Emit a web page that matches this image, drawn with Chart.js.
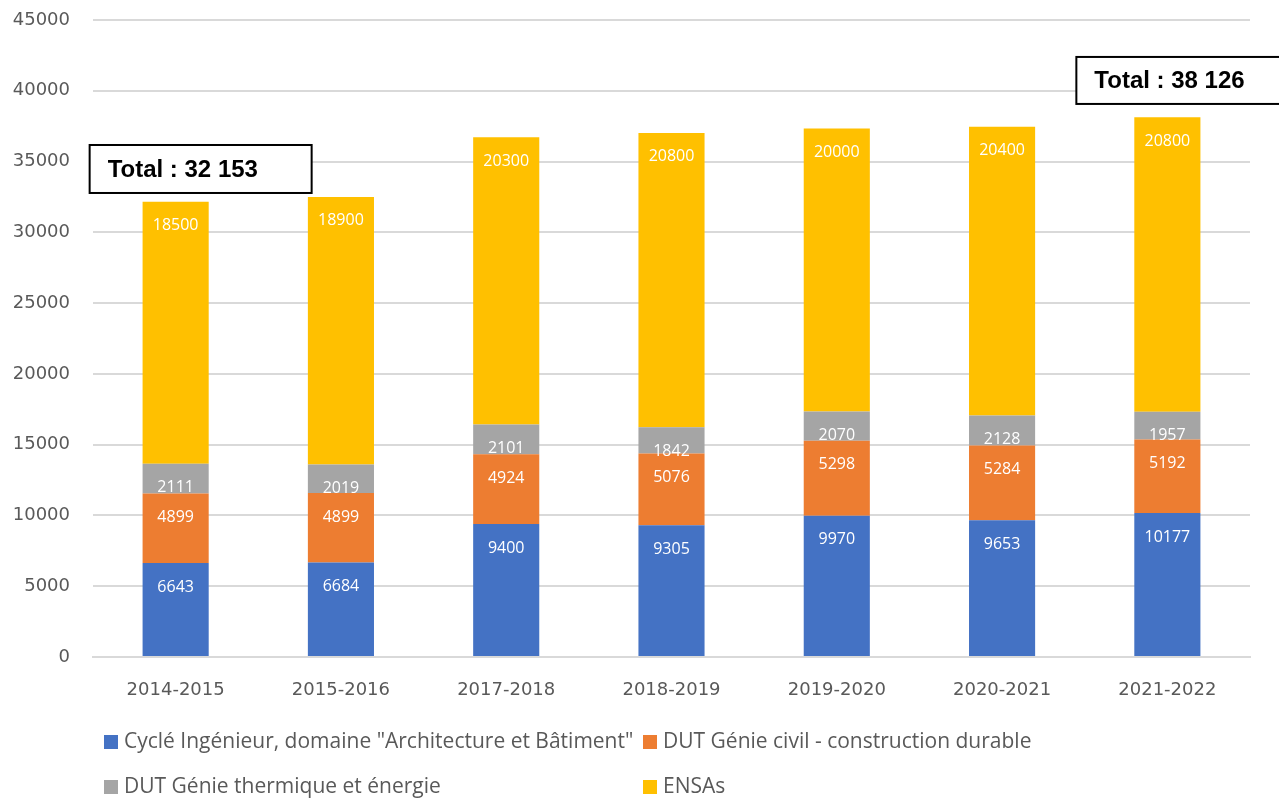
<!DOCTYPE html>
<html>
<head>
<meta charset="utf-8">
<script src="https://cdn.jsdelivr.net/npm/chart.js@4.4.0/dist/chart.umd.min.js"></script>
<style>
  html, body { margin: 0; padding: 0; background: #fff; }
  #wrap { width: 1279px; height: 798px; position: relative; }
</style>
</head>
<body>
<div id="wrap"><canvas id="graphique"></canvas></div>
<script>
const annees = ["2014-2015", "2015-2016", "2017-2018", "2018-2019", "2019-2020", "2020-2021", "2021-2022"];
const cycleIngenieur = [6643, 6684, 9400, 9305, 9970, 9653, 10177];
const dutGenieCivil = [4899, 4899, 4924, 5076, 5298, 5284, 5192];
const dutThermique = [2111, 2019, 2101, 1842, 2070, 2128, 1957];
const ensas = [18500, 18900, 20300, 20800, 20000, 20400, 20800];
const totaux = ["Total : 32 153", "Total : 38 126"];

const couleurs = ["#4472C4", "#ED7D31", "#A5A5A5", "#FFC000"];

// étiquettes blanches, près du haut de chaque segment
const etiquettes = {
  id: "etiquettes",
  afterDatasetsDraw(chart) {
    const ctx = chart.ctx;
    ctx.save();
    ctx.font = "16px 'Open Sans'";
    ctx.fillStyle = "#ffffff";
    ctx.textAlign = "center";
    ctx.textBaseline = "middle";
    chart.data.datasets.forEach((ds, i) => {
      chart.getDatasetMeta(i).data.forEach((bar, j) => {
        ctx.fillText(String(ds.data[j]), bar.x, bar.y + 24);
      });
    });
    ctx.restore();
  }
};

// encadrés "Total" + légende en grille
const decor = {
  id: "decor",
  afterDraw(chart) {
    const ctx = chart.ctx;
    const x = chart.scales.x;
    const y = chart.scales.y;
    ctx.save();

    const boite = (left, top, right, bottom, texte) => {
      ctx.fillStyle = "#fff";
      ctx.fillRect(left, top, right - left, bottom - top);
      ctx.strokeStyle = "#000";
      ctx.lineWidth = 2;
      ctx.strokeRect(left, top, right - left, bottom - top);
      ctx.fillStyle = "#000";
      ctx.font = "bold 24px 'Liberation Sans'";
      ctx.textAlign = "left";
      ctx.textBaseline = "middle";
      ctx.fillText(texte, left + 18, (top + bottom) / 2 + 1);
    };
    const x0 = x.getPixelForValue(0);
    boite(x0 - 86, y.getPixelForValue(36170), x0 + 136, y.getPixelForValue(32780), totaux[0]);
    const x6 = x.getPixelForValue(6);
    boite(x6 - 91, y.getPixelForValue(42390), x6 + 115, y.getPixelForValue(39070), totaux[1]);

    // légende
    ctx.font = "21px 'Open Sans'";
    ctx.textBaseline = "middle";
    ctx.textAlign = "left";
    chart.data.datasets.forEach((ds, i) => {
      const col = i % 2, lig = Math.floor(i / 2);
      const lx = 104 + col * 539;
      const ly = 742 + lig * 45;
      ctx.fillStyle = ds.backgroundColor;
      ctx.fillRect(lx, ly - 7, 14, 14);
      ctx.fillStyle = "#595959";
      ctx.fillText(ds.label, lx + 20, ly);
    });
    ctx.restore();
  }
};

new Chart(document.getElementById("graphique"), {
  type: "bar",
  data: {
    labels: annees,
    datasets: [
      { label: "Cyclé Ingénieur, domaine \"Architecture et Bâtiment\"", data: cycleIngenieur, backgroundColor: couleurs[0] },
      { label: "DUT Génie civil - construction durable", data: dutGenieCivil, backgroundColor: couleurs[1] },
      { label: "DUT Génie thermique et énergie", data: dutThermique, backgroundColor: couleurs[2] },
      { label: "ENSAs", data: ensas, backgroundColor: couleurs[3] }
    ]
  },
  options: {
    responsive: true,
    maintainAspectRatio: false,
    animation: false,
    barPercentage: 0.4,
    categoryPercentage: 1,
    layout: { padding: { top: 20, right: 29, bottom: 81, left: 0 } },
    plugins: {
      legend: { display: false },
      tooltip: { enabled: false }
    },
    scales: {
      x: {
        stacked: true,
        grid: { display: false, drawTicks: false },
        border: { color: "#d9d9d9", width: 2 },
        ticks: { color: "#595959", font: { family: "DejaVu Sans", size: 18 }, padding: 23 },
        afterFit(s) { s.height = 60; s.paddingLeft = 0; s.paddingRight = 0; }
      },
      y: {
        stacked: true,
        min: 0,
        max: 45000,
        grid: { color: "#d9d9d9", lineWidth: 2, drawTicks: false },
        border: { display: false },
        ticks: {
          stepSize: 5000, color: "#595959", font: { family: "DejaVu Sans", size: 18 }, padding: 23,
          callback: (v) => String(v)
        },
        afterFit(s) { s.width = 93; s.paddingTop = 0; s.paddingBottom = 0; }
      }
    }
  },
  plugins: [etiquettes, decor]
});
</script>
</body>
</html>
